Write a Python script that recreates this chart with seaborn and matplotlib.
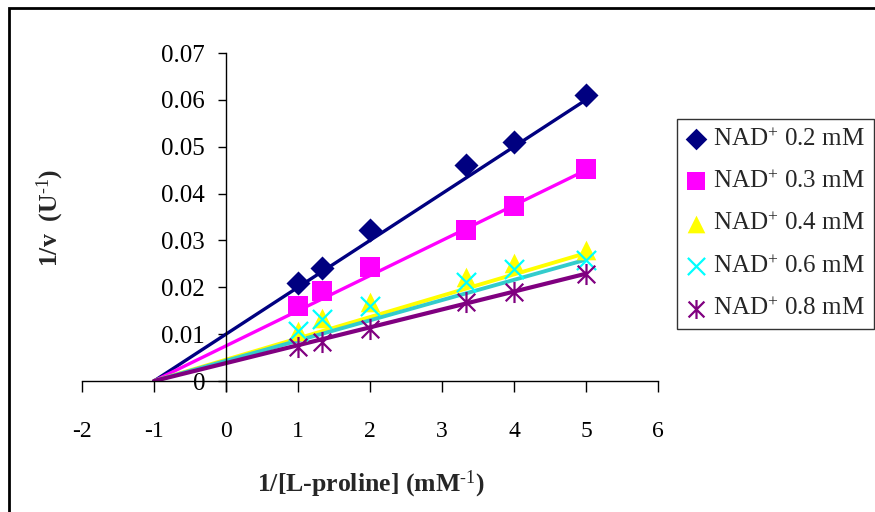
import numpy as np
import pandas as pd
import seaborn as sns
import matplotlib
matplotlib.use("Agg")
import matplotlib.pyplot as plt
from matplotlib.path import Path
from matplotlib.patches import Rectangle

# ---- data ----
x_vals = [1.0, 1.333, 2.0, 3.333, 4.0, 5.0]
series_names = ["NAD$^{+}$ 0.2 mM", "NAD$^{+}$ 0.3 mM", "NAD$^{+}$ 0.4 mM",
                "NAD$^{+}$ 0.6 mM", "NAD$^{+}$ 0.8 mM"]
y_02 = [0.0210, 0.0242, 0.0322, 0.0460, 0.0511, 0.0610]
y_03 = [0.0159, 0.0192, 0.0243, 0.0322, 0.0374, 0.0453]
y_04 = [0.0107, 0.0135, 0.0168, 0.0221, 0.0251, 0.0280]
y_06 = [0.0106, 0.0132, 0.0161, 0.0211, 0.0238, 0.0259]
y_08 = [0.0073, 0.0083, 0.0112, 0.0168, 0.0190, 0.0229]
# fitted trend lines: start point (x-intercept) and end value at x=5
fit_x = [-1.0, 5.0]
fit_end = [0.0600, 0.0450, 0.0273, 0.0259, 0.0229]
x_ticks = [-2, -1, 0, 1, 2, 3, 4, 5, 6]
y_ticks = [0, 0.01, 0.02, 0.03, 0.04, 0.05, 0.06, 0.07]
y_tick_labels = ["0", "0.01", "0.02", "0.03", "0.04", "0.05", "0.06", "0.07"]

# ---- style ----
sns.set_theme(style="white")
plt.rcParams["font.family"] = ["Liberation Serif", "DejaVu Serif"]
plt.rcParams["mathtext.fontset"] = "custom"
plt.rcParams["mathtext.rm"] = "Liberation Serif"
plt.rcParams["mathtext.it"] = "Liberation Serif:italic"
plt.rcParams["mathtext.bf"] = "Liberation Serif:bold"

star = Path([(-1, -1), (1, 1), (-1, 1), (1, -1), (0, -1.2), (0, 1.2)],
            [Path.MOVETO, Path.LINETO, Path.MOVETO, Path.LINETO, Path.MOVETO, Path.LINETO])

marker_colors = ["#000080", "#FF00FF", "#FFFF00", "#00FFFF", "#800080"]
line_colors = ["#000080", "#FF00FF", "#FFFF00", "#33CCCC", "#800080"]
markers = ["D", "s", "^", "x", star]
msizes = [150, 200, 200, 190, 230]
line_w = [2.4, 2.4, 2.8, 2.8, 3.0]

fig = plt.figure(figsize=(8.75, 5.12), dpi=100)
ax = fig.add_axes([82 / 875, 1 - 381 / 512, (658 - 82) / 875, (381 - 53) / 512])

all_y = [y_02, y_03, y_04, y_06, y_08]
for i, name in enumerate(series_names):
    ldf = pd.DataFrame({"x": fit_x, "y": [0.0, fit_end[i]]})
    sns.lineplot(data=ldf, x="x", y="y", ax=ax, color=line_colors[i],
                 linewidth=line_w[i], legend=False, zorder=2 + i * 0.1)
for i, name in enumerate(series_names):
    df = pd.DataFrame({"x": x_vals, "y": all_y[i]})
    if i >= 3:
        kw = dict(linewidth=1.6, edgecolor=marker_colors[i])
    else:
        kw = dict(linewidth=0)
    sns.scatterplot(data=df, x="x", y="y", ax=ax, marker=markers[i],
                    color=marker_colors[i], s=msizes[i], label=name,
                    zorder=3 + i * 0.1, **kw)

ax.set_xlim(-2, 6)
ax.set_ylim(0, 0.07)
ax.set_xticks(x_ticks)
ax.set_xticklabels([str(t) for t in x_ticks])
ax.set_yticks(y_ticks)
ax.set_yticklabels(y_tick_labels)
for s in ["top", "right"]:
    ax.spines[s].set_visible(False)
ax.spines["left"].set_position(("data", 0))
ax.spines["left"].set_bounds(-0.0022, 0.07)
for s in ["left", "bottom"]:
    ax.spines[s].set_color("black")
    ax.spines[s].set_linewidth(1.0)
ax.tick_params(axis="x", direction="out", length=8, width=1, pad=21,
               labelsize=17, bottom=True, colors="black")
ax.tick_params(axis="y", direction="out", length=6, width=1, pad=9,
               labelsize=18, left=True, colors="black")
ax.set_facecolor("none")

ax.set_xlabel("1/[L-proline] (mM$^{\\text{-1}}$)", fontsize=18.5,
              fontweight="bold")
ax.set_ylabel("1/v  (U$^{\\text{-1}}$)", fontsize=18.5, fontweight="bold")
ax.yaxis.set_label_coords(-0.028, 0.497)
ax.xaxis.set_label_coords(0.502, -0.268)

leg = ax.legend(loc="upper left", bbox_to_anchor=(677 / 875, 1 - 119 / 512),
                bbox_transform=fig.transFigure, frameon=True, fancybox=False,
                edgecolor="black", fontsize=18, labelspacing=0.78,
                handletextpad=0.3, borderpad=0.35, handlelength=0.8,
                borderaxespad=0, markerscale=0.9)
leg.get_frame().set_linewidth(1.0)

fig.add_artist(Rectangle((9 / 875, -0.2), 1.2, 0.2 + (1 - 8 / 512),
                         transform=fig.transFigure, fill=False,
                         edgecolor="black", linewidth=2.0))

fig.savefig("out.png", dpi=100)
